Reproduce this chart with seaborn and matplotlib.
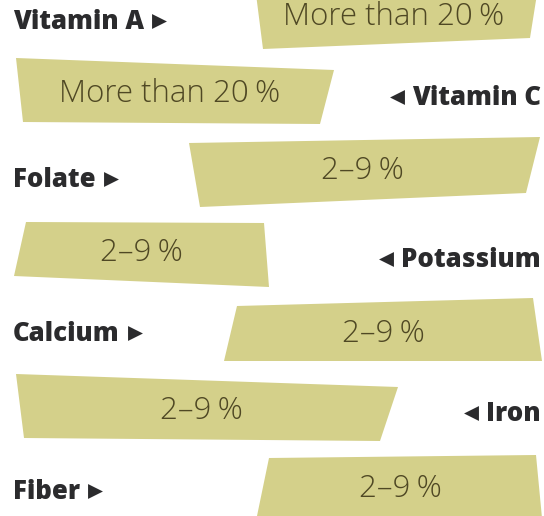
import matplotlib
matplotlib.use("Agg")
import matplotlib.pyplot as plt
import seaborn as sns

# ---- data ----
nutrients = ["Vitamin A", "Vitamin C", "Folate", "Potassium", "Calcium", "Iron", "Fiber"]
share_labels = ["More than 20\u2009%", "More than 20\u2009%", "2–9\u2009%", "2–9\u2009%",
                "2–9\u2009%", "2–9\u2009%", "2–9\u2009%"]
label_side = ["left", "right", "left", "right", "left", "right", "left"]

# ---- layout (pixel geometry of the skewed bands) ----
band_x = [[256, 537, 530, 263], [16, 334, 320, 23], [189, 540, 526, 200], [26, 264, 269, 14],
          [237, 533, 542, 224], [16, 398, 380, 24], [269, 536, 542, 257]]
band_y = [[-6, -6, 38, 49], [58, 70, 124, 122], [143, 137, 193, 207], [222, 223, 287, 276],
          [306, 298, 361, 361], [374, 387, 441, 438], [458, 455, 518, 516]]
text_xy = [(394, 17), (170, 94), (362, 171), (141, 253), (383, 334), (201, 411), (400, 489)]
label_y = [22, 98, 180, 260, 334, 414, 492]

sns.set_theme(style="white")
plt.rcParams["font.family"] = ["Open Sans", "DejaVu Sans"]

fig = plt.figure(figsize=(5.44, 5.16), dpi=100)
ax = fig.add_axes([0, 0, 1, 1])
ax.set_xlim(0, 544)
ax.set_ylim(516, 0)
ax.axis("off")

band_color = "#d4d08a"
text_color = "#4f4824"
label_color = "#2b2b2d"

label_texts = []
for i, name in enumerate(nutrients):
    ax.fill(band_x[i], band_y[i], color=band_color, lw=0)
    tx, ty = text_xy[i]
    ax.text(tx, ty, share_labels[i], ha="center", va="center", fontsize=22.5,
            color=text_color, family=["Open Sans", "DejaVu Sans"], fontweight="light")
    if label_side[i] == "left":
        t = ax.text(13, label_y[i], name, ha="left", va="center", fontsize=18.5,
                    fontweight="heavy", color=label_color, family=["Open Sans", "DejaVu Sans"])
    else:
        t = ax.text(541, label_y[i], name, ha="right", va="center", fontsize=18.5,
                    fontweight="heavy", color=label_color, family=["Open Sans", "DejaVu Sans"])
    label_texts.append(t)

# triangle markers next to labels
fig.canvas.draw()
r = fig.canvas.get_renderer()
inv = ax.transData.inverted()
for t in label_texts:
    bb = t.get_window_extent(r).transformed(inv)
    y = t.get_position()[1] - 1
    if t.get_ha() == "left":
        ax.scatter([bb.x1 + 15], [y], marker=">", s=115, color=label_color, lw=0)
    else:
        ax.scatter([bb.x0 - 15], [y], marker="<", s=115, color=label_color, lw=0)

fig.savefig("out.png", dpi=100)
